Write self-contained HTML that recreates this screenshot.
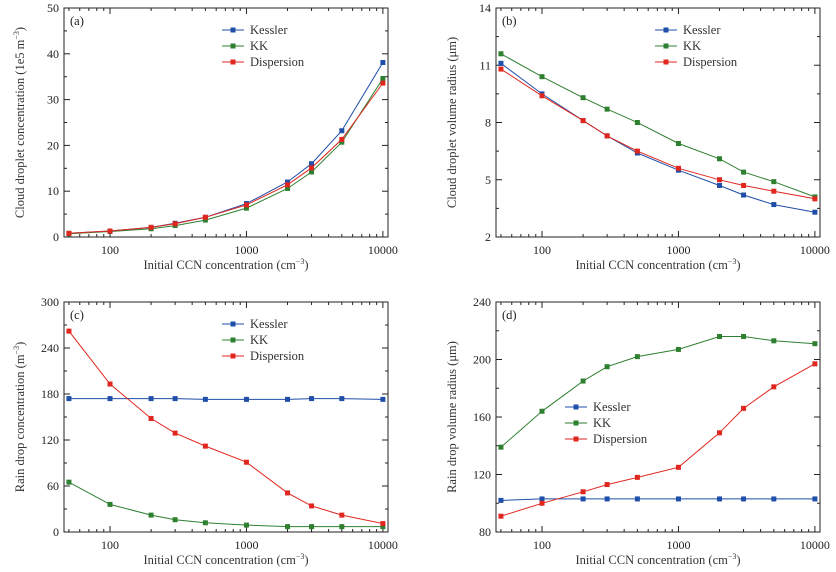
<!DOCTYPE html>
<html><head><meta charset="utf-8"><style>
body{margin:0;background:#fff;}
svg{display:block;font-family:"Liberation Serif",serif;}
</style></head><body>
<svg id="fig" width="836" height="572" viewBox="0 0 836 572"></svg>
<script>
const ccn = [50,100,200,300,500,1000,2000,3000,5000,10000];
const xTicks = [100,1000,10000];
const xTickLabels = ["100","1000","10000"];
const seriesNames = ["Kessler","KK","Dispersion"];
const a_kessler = [0.8,1.3,2.1,3.0,4.3,7.3,12.0,16.0,23.2,38.1];
const a_kk = [0.7,1.2,1.8,2.5,3.7,6.3,10.6,14.2,20.7,34.6];
const a_disp = [0.8,1.3,2.1,2.9,4.3,7.0,11.4,15.1,21.3,33.6];
const a_ticks = [0,10,20,30,40,50];
const b_kessler = [11.1,9.5,8.1,7.3,6.4,5.5,4.7,4.2,3.7,3.3];
const b_kk = [11.6,10.4,9.3,8.7,8.0,6.9,6.1,5.4,4.9,4.1];
const b_disp = [10.8,9.4,8.1,7.3,6.5,5.6,5.0,4.7,4.4,4.0];
const b_ticks = [2,5,8,11,14];
const c_kessler = [174,174,174,174,173,173,173,174,174,173];
const c_kk = [65,36,22,16,12,9,7,7,7,7];
const c_disp = [262,193,148,129,112,91,51,34,22,11];
const c_ticks = [0,60,120,180,240,300];
const d_kessler = [102,103,103,103,103,103,103,103,103,103];
const d_kk = [139,164,185,195,202,207,216,216,213,211];
const d_disp = [91,100,108,113,118,125,149,166,181,197];
const d_ticks = [80,120,160,200,240];
const colors = ["#1f4fa8","#2e8030","#e0261e"];

const NS="http://www.w3.org/2000/svg";
const svg=document.getElementById('fig');
function mk(tag,attrs,parent,text){const e=document.createElementNS(NS,tag);for(const k in attrs)e.setAttribute(k,attrs[k]);if(text!==undefined)e.textContent=text;(parent||svg).appendChild(e);return e;}

function panel(id,L,T,R,B,ticks,series,ylabel,letter,legX,legY){
  const g=mk('g',{});
  
  
  const x0=Math.log10(46),x1=Math.log10(10900);
  const ymin=ticks[0],ymax=ticks[ticks.length-1];
  const sx=v=>L+(Math.log10(v)-x0)/(x1-x0)*(R-L);
  const sy=v=>B-(v-ymin)/(ymax-ymin)*(B-T);
  const fr=mk('rect',{x:L,y:T,width:R-L,height:B-T,fill:'none',stroke:'#222','stroke-width':1},g);
  
  
  // x ticks
  for(let d=10;d<=10000;d*=10){for(let m=1;m<10;m++){const v=d*m;if(v<46||v>10900)continue;const x=sx(v);const len=m===1?6:3;
    mk('line',{x1:x,x2:x,y1:B,y2:B-len,stroke:'#222'},g);mk('line',{x1:x,x2:x,y1:T,y2:T+len,stroke:'#222'},g);}}
  xTicks.forEach((v,i)=>{const t=mk('text',{x:sx(v),y:B+17,'text-anchor':'middle','font-size':12,fill:'#222'},g,xTickLabels[i]);
    
    });
  const step=ticks[1]-ticks[0];
  ticks.forEach((v,i)=>{const y=sy(v);mk('line',{x1:L,x2:L+6,y1:y,y2:y,stroke:'#222'},g);mk('line',{x1:R,x2:R-6,y1:y,y2:y,stroke:'#222'},g);
    if(i<ticks.length-1){const ym=sy(v+step/2);mk('line',{x1:L,x2:L+3,y1:ym,y2:ym,stroke:'#222'},g);mk('line',{x1:R,x2:R-3,y1:ym,y2:ym,stroke:'#222'},g);}
    const t=mk('text',{x:L-5,y:y+4,'text-anchor':'end','font-size':12,fill:'#222'},g,String(v));
    
    });
  const xl=mk('text',{x:(L+R)/2,y:B+32,'text-anchor':'middle','font-size':12.5,fill:'#333'},g,'');
  xl.innerHTML='Initial  CCN  concentration  (cm<tspan dy="-5" font-size="8">−3</tspan><tspan dy="5">)</tspan>';
  
  
  const yl=mk('text',{x:0,y:0,'text-anchor':'middle','font-size':12.5,fill:'#333',transform:`translate(${L-40},${(T+B)/2}) rotate(-90)`},g,'');
  yl.innerHTML=ylabel;
  
  
  const lt=mk('text',{x:L+6,y:T+17,'font-size':12.5,fill:'#222'},g,letter);
  
  
  series.forEach((s,k)=>{
    const pts=ccn.map((c,i)=>sx(c).toFixed(1)+','+sy(s[i]).toFixed(1)).join(' ');
    const pl=mk('polyline',{points:pts,fill:'none',stroke:colors[k],'stroke-width':1},g);
    
    
    ccn.forEach((c,i)=>{const r=mk('rect',{x:sx(c)-2.5,y:sy(s[i])-2.5,width:5,height:5,fill:colors[k]},g);
      
      });
    const ly=legY+k*16;
    const le=mk('g',{},g);
    
    
    mk('line',{x1:legX,x2:legX+22,y1:ly,y2:ly,stroke:colors[k]},le);
    mk('rect',{x:legX+8.5,y:ly-2.5,width:5,height:5,fill:colors[k]},le);
    mk('text',{x:legX+28,y:ly+4,'font-size':12.5,fill:'#333'},le,seriesNames[k]);
  });
}
panel('a',64,8,388,237,a_ticks,[a_kessler,a_kk,a_disp],'Cloud  droplet  concentration  (1e5  m<tspan dy="-5" font-size="8">−3</tspan><tspan dy="5">)</tspan>','(a)',222,30);
panel('b',496,8,820,237,b_ticks,[b_kessler,b_kk,b_disp],'Cloud  droplet  volume  radius  (μm)','(b)',655,30);
panel('c',64,302,388,532,c_ticks,[c_kessler,c_kk,c_disp],'Rain  drop  concentration  (m<tspan dy="-5" font-size="8">−3</tspan><tspan dy="5">)</tspan>','(c)',222,324);
panel('d',496,302,820,532,d_ticks,[d_kessler,d_kk,d_disp],'Rain  drop  volume  radius  (μm)','(d)',565,407);
</script>
</body></html>
